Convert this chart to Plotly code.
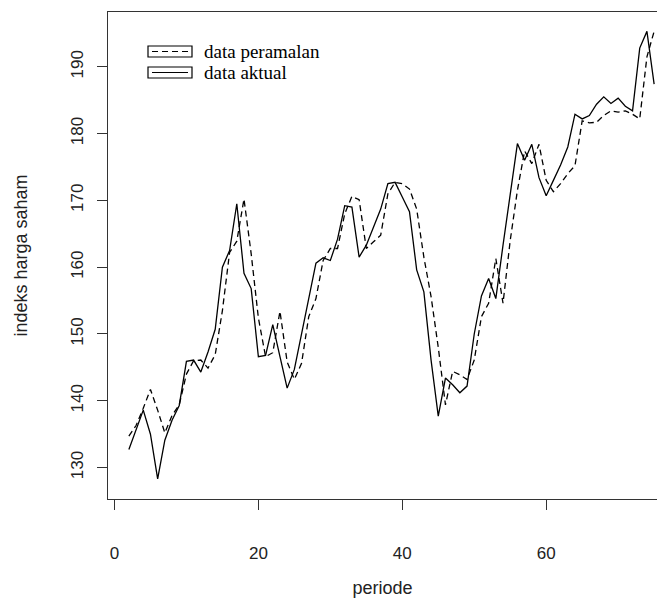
import plotly.graph_objects as go

periode = list(range(2, 76))

data_aktual = [
    132.7, 135.5, 138.6, 135.0, 128.3, 134.1, 137.1, 139.3, 145.9, 146.1,
    144.3, 147.3, 150.7, 160.0, 162.5, 169.5, 159.1, 156.8, 146.6, 146.8,
    151.4, 146.6, 141.9, 144.7, 150.0, 155.6, 160.6, 161.4, 161.0, 164.2,
    169.2, 169.0, 161.5, 163.3, 166.0, 168.7, 172.5, 172.7, 170.5, 168.3,
    159.6, 156.3, 146.1, 137.7, 143.4, 142.4, 141.2, 142.2, 150.0, 155.7,
    158.3, 155.3, 163.3, 171.3, 178.5, 176.0, 178.4, 173.4, 170.7, 173.0,
    175.3, 178.0, 182.9, 182.2, 182.7, 184.4, 185.5, 184.5, 185.3, 184.1,
    183.4, 192.8, 195.3, 187.4,
]

data_peramalan = [
    134.7, 136.3, 138.9, 141.7, 138.6, 135.2, 137.8, 139.4, 144.0, 146.0,
    146.1, 144.9, 146.9, 153.5, 162.2, 163.9, 170.2, 162.0, 152.4, 146.6,
    147.2, 153.4, 145.8, 143.2, 145.6, 152.6, 155.3, 161.0, 162.8, 162.8,
    168.0, 170.6, 170.1, 162.8, 163.8, 164.8, 171.0, 172.7, 172.5, 171.7,
    168.7, 161.5, 155.6, 148.0, 139.4, 144.4, 143.9, 143.2, 146.1, 152.6,
    154.6, 161.3, 154.6, 164.0, 171.5, 177.4, 175.5, 178.4, 173.0, 171.3,
    172.5, 174.0, 175.2, 181.9, 181.6, 181.7, 182.7, 183.4, 183.2, 183.4,
    182.9, 182.2, 191.5, 195.3,
]

x_ticks = [0, 20, 40, 60]
y_ticks = [130, 140, 150, 160, 170, 180, 190]
legend_labels = ["data peramalan", "data aktual"]

W, H = 657, 598
L, R, T, B = 108, 0, 12, 99
pw, ph = W - L - R, H - T - B

def px(x):
    return (x - L) / pw

def py(y):
    return (H - B - y) / ph

fig = go.Figure()
fig.add_trace(go.Scatter(x=periode, y=data_peramalan, mode="lines",
                         line=dict(color="black", width=1.3, dash="6px,4px"),
                         name=legend_labels[0], showlegend=False))
fig.add_trace(go.Scatter(x=periode, y=data_aktual, mode="lines",
                         line=dict(color="black", width=1.3),
                         name=legend_labels[1], showlegend=False))

shapes = []
annotations = []
rows = [(46, 57, "6px,4px"), (67, 78, "solid")]
for (y0, y1, dash), lab in zip(rows, legend_labels):
    shapes.append(dict(type="rect", xref="paper", yref="paper",
                       x0=px(148), x1=px(192), y0=py(y1), y1=py(y0),
                       line=dict(color="black", width=1.2)))
    yc = (y0 + y1) / 2
    shapes.append(dict(type="line", xref="paper", yref="paper",
                       x0=px(152), x1=px(188), y0=py(yc), y1=py(yc),
                       line=dict(color="black", width=1.2, dash=dash)))
    annotations.append(dict(xref="paper", yref="paper", x=px(202), y=py(yc),
                            text=lab, showarrow=False, xanchor="left",
                            yanchor="middle",
                            font=dict(family="Liberation Serif", size=19,
                                      color="black")))

fig.update_layout(
    width=W, height=H,
    margin=dict(l=L, r=R, t=T, b=B, pad=0, autoexpand=False),
    paper_bgcolor="white", plot_bgcolor="white",
    font=dict(family="Liberation Sans, Arial", size=17, color="#222"),
    shapes=shapes, annotations=annotations,
    xaxis=dict(range=[-0.9, 75.4], tickvals=x_ticks, ticks="outside",
               ticklen=10, tickcolor="#333", showgrid=False, zeroline=False,
               showline=True, linecolor="#333", linewidth=1.3, mirror=True,
               ticklabelstandoff=28, automargin=False,
               title=dict(text="periode", standoff=21, font=dict(size=18))),
    yaxis=dict(range=[125.3, 198.2], tickvals=y_ticks, ticks="outside",
               ticklen=10, tickcolor="#333", showgrid=False, zeroline=False,
               showline=True, linecolor="#333", linewidth=1.3,
               tickangle=-90, ticklabelstandoff=7, automargin=False,
               title=dict(text="indeks harga saham", standoff=35,
                          font=dict(size=18))),
)

fig.write_html("out.html", config={"displayModeBar": False},
               post_script="document.body.style.margin='0';document.body.style.padding='0';")
